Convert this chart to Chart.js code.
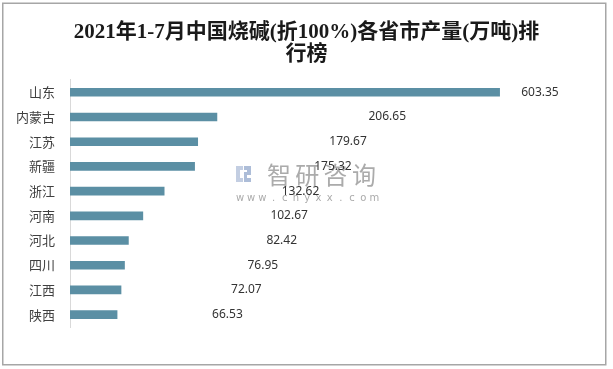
<!DOCTYPE html>
<html>
<head>
<meta charset="utf-8">
<script src="https://cdn.jsdelivr.net/npm/chart.js@4"></script>
<style>
  html, body { margin: 0; padding: 0; background: #fff; }
  #wrap { width: 613px; height: 369px; position: relative; }
</style>
</head>
<body>
<div id="wrap"><canvas id="chart"></canvas></div>
<script>
const provinces = ['山东', '内蒙古', '江苏', '新疆', '浙江', '河南', '河北', '四川', '江西', '陕西'];
const output = [603.35, 206.65, 179.67, 175.32, 132.62, 102.67, 82.42, 76.95, 72.07, 66.53];
const titleLines = ['2021年1-7月中国烧碱(折100%)各省市产量(万吨)排', '行榜'];

// label offset from the bar end, px (labels in the original are hand-placed)
const labelShift = [40, 170, 150, 138, 136, 146, 153, 138, 125, 110];

const frame = {
  id: 'frame',
  beforeDraw(chart) {
    const ctx = chart.ctx;
    ctx.save();
    ctx.fillStyle = '#fff';
    ctx.fillRect(0, 0, chart.width, chart.height);
    ctx.strokeStyle = '#a6a6a6';
    ctx.lineWidth = 1.5;
    ctx.strokeRect(2.75, 3.25, 603, 361.5);
    ctx.restore();
  }
};

const watermark = {
  id: 'watermark',
  beforeDatasetsDraw(chart) {
    const ctx = chart.ctx;
    ctx.save();
    // logo
    ctx.fillStyle = '#c3cee2';
    ctx.fillRect(236, 166, 7, 4);
    ctx.fillRect(236, 166, 4, 16);
    ctx.fillRect(236, 178, 7, 4);
    ctx.fillStyle = '#adbdd8';
    ctx.fillRect(244, 166, 7, 4);
    ctx.fillRect(247, 166, 4, 9);
    ctx.fillRect(244, 172, 7, 3);
    ctx.fillRect(244, 172, 3, 10);
    ctx.fillRect(244, 178, 7, 4);
    // text
    ctx.fillStyle = '#ababab';
    ctx.font = '24px "Noto Sans CJK SC"';
    ctx.textBaseline = 'middle';
    ctx.textAlign = 'left';
    '智研咨询'.split('').forEach((ch, i) => ctx.fillText(ch, 267 + i * 28.3, 175));
    ctx.font = '10px "DejaVu Sans"';
    ctx.textAlign = 'center';
    'www.chyxx.com'.split('').forEach((ch, i) => ctx.fillText(ch, 240 + i * 11.2, 198));
    ctx.restore();
  }
};

const valueLabels = {
  id: 'valueLabels',
  afterDatasetsDraw(chart) {
    const ctx = chart.ctx;
    const meta = chart.getDatasetMeta(0);
    ctx.save();
    ctx.font = '12px "Noto Sans"';
    ctx.fillStyle = '#333';
    ctx.textAlign = 'center';
    ctx.textBaseline = 'middle';
    meta.data.forEach((bar, i) => {
      ctx.fillText(output[i].toFixed(2), bar.x + labelShift[i], bar.y);
    });
    ctx.restore();
  }
};

new Chart(document.getElementById('chart'), {
  type: 'bar',
  data: {
    labels: provinces,
    datasets: [{
      data: output,
      backgroundColor: '#5b8fa4',
      categoryPercentage: 1,
      barPercentage: 0.35
    }]
  },
  options: {
    indexAxis: 'y',
    responsive: true,
    maintainAspectRatio: false,
    animation: false,
    layout: { padding: { left: 0, right: 0, top: 0, bottom: 42 } },
    plugins: {
      legend: { display: false },
      tooltip: { enabled: false },
      title: {
        display: true,
        text: titleLines,
        color: '#1a1a1a',
        font: { family: '"Liberation Serif", "Noto Sans CJK SC"', size: 21, weight: 'bold', lineHeight: 1.07 },
        padding: { top: 21, bottom: 14 }
      }
    },
    scales: {
      x: {
        display: false,
        min: 0,
        max: 762   // hidden axis; wide enough that 山东 ends near x=500
      },
      y: {
        afterFit: s => { s.width = 70; },
        grid: { display: true, drawOnChartArea: false, drawTicks: false },
        border: { display: true, color: '#d9d9d9', width: 1 },
        ticks: {
          padding: 15,
          color: '#404040',
          font: { family: '"Noto Sans CJK SC"', size: 13 }
        }
      }
    }
  },
  plugins: [frame, watermark, valueLabels]
});
</script>
</body>
</html>
